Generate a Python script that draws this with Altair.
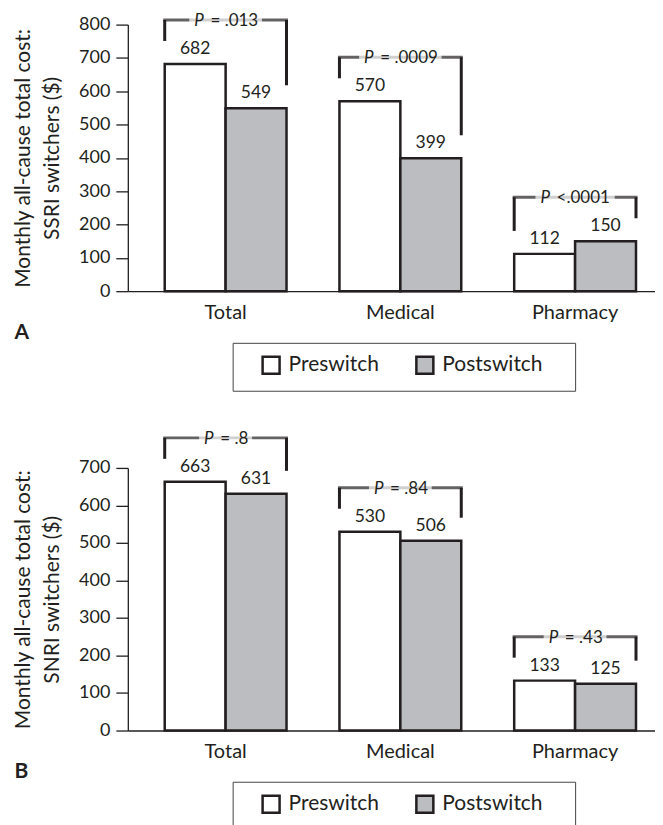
import altair as alt
import pandas as pd

# ---------------- data ----------------
categories = ["Total", "Medical", "Pharmacy"]
periods = ["Preswitch", "Postswitch"]

ssri_pre = [682, 570, 112]
ssri_post = [549, 399, 150]
ssri_p = ["= .013", "= .0009", "<.0001"]

snri_pre = [663, 530, 133]
snri_post = [631, 506, 125]
snri_p = ["= .8", "= .84", "= .43"]

ssri_title = ["Monthly all-cause total cost:", "SSRI switchers ($)"]
snri_title = ["Monthly all-cause total cost:", "SNRI switchers ($)"]

# ---------------- style ----------------
INK = "#231f20"
GRAY = "#bcbdc0"
FONT = "Lato"
PLOT_W = 528
HALF = 61          # half of a bar group in px
P_SIZE = 17
P_GAP = 6
CHAR_EM = {".": 0.23, " ": 0.19, "=": 0.58, "<": 0.58, "P": 0.6}
TAIL = "\u00a0\u2800"   # blank, non-trimmed glyphs that widen the legend frame


def text_width(s, size):
    return sum(CHAR_EM.get(ch, 0.58) for ch in s) * size


def panel(pre, post, pvals, ymax, height, ytitle, letter, legend_y):
    long = pd.DataFrame({
        "cat": categories * 2,
        "period": [periods[0]] * 3 + [periods[1]] * 3,
        "value": pre + post,
    })
    wide = pd.DataFrame({
        "cat": categories,
        "pre": pre,
        "post": post,
        "top": [max(a, b) for a, b in zip(pre, post)],
        "p": pvals,
    })

    xscale = alt.Scale(domain=categories, paddingInner=0.303, paddingOuter=0.16, align=0.66)
    yscale = alt.Scale(domain=[0, ymax], nice=False, zero=True)

    xaxis = alt.Axis(
        title=letter, labelFontSize=20, labelPadding=11, ticks=False, tickSize=0,
        labelAngle=0, domainWidth=1.3, titleFontSize=21, titleFontWeight="bold",
        titleX=-114, titleY=47.5, titleAlign="left", titleBaseline="alphabetic",
        labelColor=INK, titleColor=INK, domainColor=INK,
    )
    yaxis = alt.Axis(
        title=ytitle, values=list(range(0, ymax + 1, 100)), tickSize=12, tickWidth=1.3,
        domainWidth=1.3, labelFontSize=18, labelPadding=6, titleFontSize=21,
        titleFontWeight="normal", titlePadding=16, titleLineHeight=29, grid=False,
        labelOverlap=False, labelColor=INK, titleColor=INK, tickColor=INK, domainColor=INK,
    )

    X = alt.X("cat:N", scale=xscale, axis=xaxis)

    def Y(field):
        return alt.Y(field, scale=yscale, axis=yaxis)

    XO = alt.XOffset("period:N", sort=periods,
                     scale=alt.Scale(domain=periods, paddingInner=0, paddingOuter=0))

    legend = alt.Legend(
        title=None, orient="none", legendX=105, legendY=legend_y, direction="horizontal",
        strokeColor="#444444", padding=12, symbolType="square", symbolSize=289,
        symbolStrokeColor=INK, symbolStrokeWidth=2.5, symbolOffset=16, labelOffset=7,
        labelFontSize=21, labelColor=INK, columnPadding=19, labelLimit=0,
        labelExpr="datum.label == 'Postswitch' ? datum.label + '" + TAIL + "' : datum.label",
    )

    bars = alt.Chart(long).mark_bar(stroke=INK, strokeWidth=2.5).encode(
        x=X,
        xOffset=XO,
        y=Y("value:Q"),
        fill=alt.Fill("period:N", sort=periods,
                      scale=alt.Scale(domain=periods, range=["white", GRAY]),
                      legend=legend),
    )
    values = alt.Chart(long).mark_text(
        dy=-10, baseline="alphabetic", fontSize=17.5, color=INK
    ).encode(x=X, xOffset=XO, y=Y("value:Q"), text="value:Q")

    left_leg = alt.Chart(wide).mark_rule(
        color=INK, strokeWidth=3, xOffset=-HALF, yOffset=-23, y2Offset=-44
    ).encode(x=X, y=Y("pre:Q"), y2="top:Q")
    right_leg = alt.Chart(wide).mark_rule(
        color=INK, strokeWidth=3, xOffset=HALF, yOffset=-23, y2Offset=-44
    ).encode(x=X, y=Y("post:Q"), y2="top:Q")
    top_line = alt.Chart(wide).mark_tick(
        orient="horizontal", size=2 * HALF + 3, thickness=3, color=INK, yOffset=-44
    ).encode(x=X, y=Y("top:Q"))

    layers = [bars, values, left_leg, right_leg, top_line]

    for c, rest in zip(categories, pvals):
        wp = CHAR_EM["P"] * P_SIZE
        wt = wp + P_GAP + text_width(rest, P_SIZE)
        base = alt.Chart(wide).transform_filter(alt.datum.cat == c)
        gap = base.mark_tick(
            orient="horizontal", size=wt + 10, thickness=7, color="white", yOffset=-44
        ).encode(x=X, y=Y("top:Q"))
        ptxt = base.mark_text(
            align="left", baseline="alphabetic", fontSize=P_SIZE, fontStyle="italic",
            color=INK, dx=-wt / 2, yOffset=-44, dy=6,
        ).encode(x=X, y=Y("top:Q"), text=alt.value("P"))
        rtxt = base.mark_text(
            align="left", baseline="alphabetic", fontSize=P_SIZE,
            color=INK, dx=-wt / 2 + wp + P_GAP, yOffset=-44, dy=6,
        ).encode(x=X, y=Y("top:Q"), text="p:N")
        layers += [gap, ptxt, rtxt]

    return alt.layer(*layers).properties(width=PLOT_W, height=height)


chart_a = panel(ssri_pre, ssri_post, ssri_p, 800, 267, ssri_title, "A", 318.7)
chart_b = panel(snri_pre, snri_post, snri_p, 700, 263, snri_title, "B", 314.3)

chart = (
    alt.vconcat(chart_a, chart_b, spacing=177, bounds="flush")
    .resolve_scale(y="independent", x="independent", fill="independent")
    .resolve_legend(fill="independent")
    .configure(padding={"left": 4, "top": 3, "right": 0, "bottom": 0}, font=FONT,
               background="white")
    .configure_view(stroke=None)
    .configure_axis(labelFont=FONT, titleFont=FONT)
    .configure_text(font=FONT)
    .configure_legend(labelFont=FONT, titleFont=FONT)
)

chart.save("out.html", embed_options={"renderer": "svg", "actions": False})
